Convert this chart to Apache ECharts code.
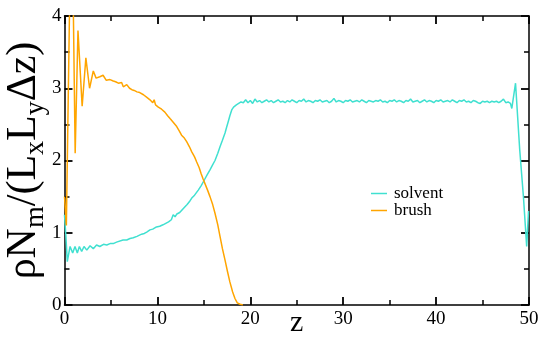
<!DOCTYPE html>
<html>
<head>
<meta charset="utf-8">
<script src="https://cdn.jsdelivr.net/npm/echarts@6/dist/echarts.min.js"></script>
<style>html,body{margin:0;padding:0;background:#fff}#c{width:539px;height:341px}</style>
</head>
<body>
<div id="c"></div>
<script>
var seriesNames = ['solvent', 'brush'];
var xTicks = [0, 10, 20, 30, 40, 50];
var yTicks = [0, 1, 2, 3, 4];

var solventZ = [0, 0.15, 0.3, 0.6, 0.88, 1.13, 1.38, 1.6, 1.85, 2.1, 2.4, 2.75, 3.1, 3.45, 3.8, 4.2, 4.55, 4.9, 5.25, 5.6, 5.8, 6.3, 6.7, 7.05, 7.4, 7.8, 8.3, 8.6, 8.85, 9.2, 9.5, 9.9, 10.25, 10.6, 10.9, 11.2, 11.5, 11.7, 11.9, 12.1, 12.4, 12.6, 12.97, 13.2, 13.5, 13.7, 14.0, 14.4, 14.7, 15.05, 15.35, 15.66, 15.9, 16.2, 16.5, 16.74, 17.0, 17.28, 17.45, 17.63, 17.8, 18.0, 18.2, 18.5, 18.7, 19.0,
  19.25, 19.5, 19.75, 20, 20.25, 20.5, 20.75, 21, 21.25, 21.5, 21.75, 22, 22.25, 22.5, 22.75, 23, 23.25, 23.5, 23.75, 24, 24.25, 24.5, 24.75, 25, 25.25, 25.5, 25.75, 26, 26.25, 26.5, 26.75, 27, 27.25, 27.5, 27.75, 28, 28.25, 28.5, 28.75, 29, 29.25, 29.5, 29.75, 30, 30.25, 30.5, 30.75, 31, 31.25, 31.5, 31.75, 32, 32.25, 32.5, 32.75, 33, 33.25, 33.5, 33.75, 34, 34.25, 34.5, 34.75, 35, 35.25, 35.5, 35.75, 36, 36.25, 36.5, 36.75, 37, 37.25, 37.5, 37.75, 38, 38.25, 38.5, 38.75, 39, 39.25, 39.5, 39.75, 40, 40.25, 40.5, 40.75, 41, 41.25, 41.5, 41.75, 42, 42.25, 42.5, 42.75, 43, 43.25, 43.5, 43.75, 44, 44.25, 44.5, 44.75, 45, 45.25, 45.5, 45.75, 46, 46.25, 46.5, 46.75, 47, 47.25, 47.5, 47.75, 48, 48.15, 48.55, 49.0, 49.4, 49.75, 49.95];
var solventRho = [1.25, 0.95, 0.6, 0.81, 0.72, 0.81, 0.72, 0.81, 0.74, 0.81, 0.76, 0.82, 0.78, 0.83, 0.81, 0.84, 0.83, 0.85, 0.85, 0.87, 0.88, 0.9, 0.9, 0.92, 0.93, 0.95, 0.98, 0.99, 1.01, 1.04, 1.05, 1.08, 1.09, 1.11, 1.13, 1.15, 1.18, 1.25, 1.22, 1.26, 1.28, 1.29, 1.36, 1.39, 1.44, 1.48, 1.52, 1.59, 1.65, 1.73, 1.80, 1.87, 1.93, 2.0, 2.10, 2.19, 2.28, 2.38, 2.46, 2.54, 2.62, 2.70, 2.74, 2.77, 2.79, 2.81,
  2.80, 2.84, 2.80, 2.83, 2.79, 2.85, 2.81, 2.83, 2.80, 2.82, 2.84, 2.81, 2.83, 2.80, 2.82, 2.84, 2.81, 2.82, 2.80, 2.83, 2.81, 2.84, 2.82, 2.80, 2.83, 2.82, 2.85, 2.81, 2.83, 2.82, 2.80, 2.83, 2.82, 2.84, 2.81, 2.82, 2.83, 2.80, 2.82, 2.86, 2.81, 2.83, 2.82, 2.80, 2.83, 2.82, 2.84, 2.81, 2.82, 2.83, 2.81, 2.84, 2.82, 2.80, 2.83, 2.82, 2.81, 2.83, 2.82, 2.84, 2.81, 2.82, 2.80, 2.83, 2.82, 2.84, 2.81, 2.83, 2.82, 2.80, 2.83, 2.82, 2.85, 2.81, 2.82, 2.83, 2.80, 2.82, 2.84, 2.81, 2.83, 2.82, 2.80, 2.83, 2.82, 2.84, 2.81, 2.82, 2.83, 2.81, 2.84, 2.82, 2.80, 2.83, 2.82, 2.84, 2.81, 2.82, 2.80, 2.83, 2.82, 2.80, 2.79, 2.82, 2.81, 2.82, 2.80, 2.82, 2.81, 2.82, 2.80, 2.82, 2.85, 2.80, 2.81, 2.79, 2.72, 3.07, 2.15, 1.5, 0.81, 1.3];

var brushZ = [0, 0.2, 0.6, 0.9, 1.15, 1.45, 1.9, 2.3, 2.7, 3.1, 3.4, 3.8, 4.15, 4.5, 4.9, 5.25, 5.5, 5.8, 6.15, 6.33, 6.7, 7.0, 7.25, 7.5, 7.8, 8.1, 8.5, 8.9, 9.2, 9.5, 9.65, 9.8, 10.1, 10.45, 10.8, 11.1, 11.36, 11.7, 12.08, 12.35, 12.6, 12.9, 13.15, 13.45, 13.7, 14.0, 14.23, 14.5, 14.7, 14.9, 15.12, 15.4, 15.66, 15.95, 16.2, 16.5, 16.74, 17.0, 17.28, 17.55, 17.8, 18.1, 18.35, 18.6, 18.9, 19.2];
var brushRho = [1.5, 1.1, 4.6, 4.6, 2.1, 3.8, 2.75, 3.42, 3.0, 3.24, 3.14, 3.16, 3.18, 3.11, 3.12, 3.10, 3.09, 3.07, 3.08, 3.02, 3.05, 3.0, 2.98, 2.97, 2.95, 2.94, 2.91, 2.87, 2.84, 2.80, 2.84, 2.77, 2.74, 2.71, 2.67, 2.62, 2.58, 2.53, 2.47, 2.41, 2.35, 2.31, 2.26, 2.19, 2.12, 2.05, 1.98, 1.90, 1.82, 1.75, 1.68, 1.59, 1.50, 1.39, 1.27, 1.11, 0.95, 0.78, 0.62, 0.46, 0.32, 0.18, 0.09, 0.03, 0.01, 0];

function pairs(xs, ys) { return xs.map(function (x, i) { return [x, ys[i]]; }); }

var FONT = '"Liberation Serif", "DejaVu Serif", serif';
function axisLine(idx) { return { show: true, onZero: true, onZeroAxisIndex: idx, lineStyle: { color: '#000', width: 1.5 } }; }
function tick() { return { show: true, inside: true, length: 8, lineStyle: { color: '#000', width: 1.8 } }; }
function minor() { return { show: true, splitNumber: 2, length: 5, lineStyle: { color: '#000', width: 1.5 } }; }

var xMin = xTicks[0], xMax = xTicks[xTicks.length - 1];
var yMin = yTicks[0], yMax = yTicks[yTicks.length - 1];

var chart = echarts.init(document.getElementById('c'));
chart.setOption({
  animation: false,
  backgroundColor: '#fff',
  grid: { left: 64.5, right: 10, top: 16, bottom: 36, outerBoundsMode: 'none' },
  legend: {
    orient: 'vertical', left: 366, top: 180, itemGap: 0,
    icon: 'rect', itemWidth: 16, itemHeight: 1.5,
    textStyle: { fontFamily: FONT, fontSize: 17, color: '#000', padding: [0, 0, 0, 2] },
    data: seriesNames
  },
  xAxis: [{
    type: 'value', min: xMin, max: xMax, interval: 10,
    axisLine: axisLine(0), axisTick: tick(), minorTick: minor(), splitLine: { show: false },
    axisLabel: { fontFamily: FONT, fontSize: 19, color: '#000', margin: 5 },
    name: 'z', nameLocation: 'middle', nameGap: 3, nameMoveOverlap: false,
    nameTextStyle: { fontFamily: FONT, fontSize: 30, color: '#000' }
  }, {
    // top frame axis: sits on the zero of the inverted right axis (= top edge)
    type: 'value', position: 'top', inverse: true, min: xMin, max: xMax, interval: 10,
    axisLine: axisLine(1), axisTick: tick(), minorTick: minor(), splitLine: { show: false },
    axisLabel: { show: false }
  }],
  yAxis: [{
    type: 'value', min: yMin, max: yMax, interval: 1,
    axisLine: axisLine(0), axisTick: tick(), minorTick: minor(), splitLine: { show: false },
    axisLabel: { fontFamily: FONT, fontSize: 19, color: '#000', margin: 3 },
    name: '{a|ρN}{s|m}{a|/(L}{s|x}{a|L}{s|y}{a|Δz)}',
    nameLocation: 'middle', nameRotate: 90, nameGap: 15, nameMoveOverlap: false,
    nameTextStyle: {
      fontFamily: FONT, color: '#000',
      rich: {
        a: { fontFamily: FONT, fontSize: 42, color: '#000', lineHeight: 52, verticalAlign: 'middle' },
        s: { fontFamily: FONT, fontSize: 28, color: '#000', lineHeight: 52, verticalAlign: 'bottom' }
      }
    }
  }, {
    // right frame axis: sits on the zero of the inverted top axis (= right edge)
    type: 'value', position: 'right', inverse: true, min: yMin, max: yMax, interval: 1,
    axisLine: axisLine(1), axisTick: tick(), minorTick: minor(), splitLine: { show: false },
    axisLabel: { show: false }
  }],
  series: [{
    name: seriesNames[0], type: 'line', xAxisIndex: 0, yAxisIndex: 0,
    data: pairs(solventZ, solventRho), showSymbol: false, symbol: 'none', clip: true,
    lineStyle: { color: '#40e0d0', width: 1.5 }, itemStyle: { color: '#40e0d0' }
  }, {
    name: seriesNames[1], type: 'line', xAxisIndex: 0, yAxisIndex: 0,
    data: pairs(brushZ, brushRho), showSymbol: false, symbol: 'none', clip: true,
    lineStyle: { color: '#ffa500', width: 1.5 }, itemStyle: { color: '#ffa500' }
  }]
});
</script>
</body>
</html>
